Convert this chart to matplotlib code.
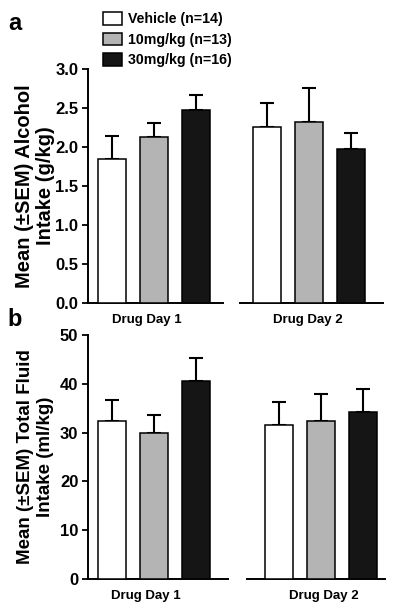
import numpy as np
import matplotlib
matplotlib.use("Agg")
import matplotlib.pyplot as plt

plt.rcParams['font.family'] = ['Liberation Sans', 'DejaVu Sans']
plt.rcParams['font.weight'] = 'bold'

groups = ["Vehicle (n=14)", "10mg/kg (n=13)", "30mg/kg (n=16)"]
colors = ["white", "#b4b4b4", "#151515"]
days = ["Drug Day 1", "Drug Day 2"]

# panel a: alcohol intake (g/kg)
alc_day1 = [1.84, 2.13, 2.47]
alc_day1_sem = [0.30, 0.18, 0.20]
alc_day2 = [2.26, 2.32, 1.97]
alc_day2_sem = [0.30, 0.44, 0.21]

# panel b: total fluid intake (ml/kg)
fluid_day1 = [32.4, 29.9, 40.5]
fluid_day1_sem = [4.3, 3.8, 4.8]
fluid_day2 = [31.5, 32.3, 34.2]
fluid_day2_sem = [4.8, 5.7, 4.7]

fig = plt.figure(figsize=(4.0, 6.1), dpi=100)

W, H = 400, 610


def px_axes(x0, x1, ytop, ybot):
    return fig.add_axes([x0 / W, 1 - ybot / H, (x1 - x0) / W, (ybot - ytop) / H])


def draw(ax, vals, sems, xlim, ylim, yticks, show_y, day_label, label_x):
    x = np.arange(len(vals))
    ax.bar(x, vals, width=0.67, color=colors, edgecolor="black", linewidth=1.1,
           zorder=3)
    ax.errorbar(x, vals, yerr=[np.zeros(len(sems)), sems], fmt="none",
                ecolor="black", elinewidth=1.5, capsize=5.3, capthick=1.5,
                zorder=2)
    ax.set_xlim(*xlim)
    ax.set_ylim(*ylim)
    for s in ["top", "right"]:
        ax.spines[s].set_visible(False)
    ax.spines["bottom"].set_linewidth(1.4)
    ax.spines["left"].set_linewidth(1.4)
    ax.set_xticks([label_x])
    ax.set_xticklabels([day_label], fontsize=9.5, fontweight="bold")
    ax.tick_params(axis="x", length=0, pad=8)
    if show_y:
        ax.set_yticks(yticks)
        ax.tick_params(axis="y", length=4.5, width=1.3, pad=2.5,
                       labelsize=12)
    else:
        ax.spines["left"].set_visible(False)
        ax.set_yticks([])
    ax.set_facecolor("none")


# panel a
ax_a1 = px_axes(88, 223, 69, 303)
ax_a2 = px_axes(240, 383, 69, 303)
draw(ax_a1, alc_day1, alc_day1_sem, (-0.571, 2.643), (0, 3.0),
     np.arange(0, 3.01, 0.5), True, days[0], 0.83)
draw(ax_a2, alc_day2, alc_day2_sem, (-0.643, 2.76), (0, 3.0),
     None, False, days[1], 0.96)
ax_a1.set_yticklabels([f"{v:.1f}" for v in np.arange(0, 3.01, 0.5)],
                      fontweight="bold")
ax_a1.set_ylabel("Mean (\u00b1SEM) Alcohol\nIntake (g/kg)", fontsize=14.5,
                 fontweight="bold", linespacing=1.15)

# panel b
ax_b1 = px_axes(88, 228, 335, 579)
ax_b2 = px_axes(247, 385, 335, 579)
draw(ax_b1, fluid_day1, fluid_day1_sem, (-0.571, 2.76), (0, 50),
     np.arange(0, 51, 10), True, days[0], 0.81)
draw(ax_b2, fluid_day2, fluid_day2_sem, (-0.762, 2.524), (0, 50),
     None, False, days[1], 1.07)
ax_b1.set_yticklabels([str(v) for v in range(0, 51, 10)], fontweight="bold")
ax_b1.set_ylabel("Mean (\u00b1SEM) Total Fluid\nIntake (ml/kg)", fontsize=13.5,
                 fontweight="bold", linespacing=1.2)

# y label positions (right edge of the rotated text block)
ax_a1.yaxis.set_label_coords((55 - 88) / 135, 0.5)
ax_b1.yaxis.set_label_coords((54 - 88) / 140, 0.5)

fig.text(15 / W, 1 - 23 / H, "a", fontsize=17, fontweight="bold",
         ha="center", va="center")
fig.text(15 / W, 1 - 320 / H, "b", fontsize=17, fontweight="bold",
         ha="center", va="center")

handles = ax_a1.patches[:3]
leg = fig.legend(handles, groups, loc="upper left",
                 bbox_to_anchor=(103 / W, 1 - 12 / H), frameon=False,
                 prop={"size": 10.2, "weight": "bold"}, handlelength=1.35,
                 handleheight=1.0, labelspacing=0.45, handletextpad=0.45,
                 borderpad=0, borderaxespad=0)

fig.savefig("out.png", dpi=100)
